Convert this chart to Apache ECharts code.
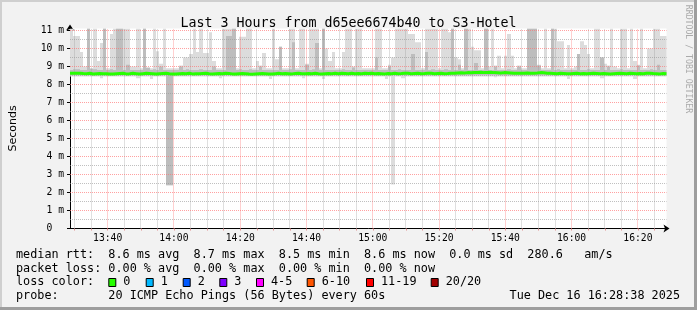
<!DOCTYPE html>
<html><head><meta charset="utf-8">
<script src="https://cdn.jsdelivr.net/npm/echarts@6/dist/echarts.min.js"></script>
<style>html,body{margin:0;padding:0;background:#f2f2f2}#c{width:697px;height:310px}</style>
</head><body><div id="c"></div>
<script>
// ---- data ----
const startMin = 808.633;   // 13:28:38 in minutes after midnight
const endMin = 988.633;     // 16:28:38
const T = 11.2;             // smoke that runs past the top of the chart
// highest ping per minute (ms)
const smokeHi = [
 T,10.7,10.7,9.8,9.0,T,8.9,T,9.3,10.3,
 T,8.9,10.8,T,T,T,T,T,9.0,9.0,
 T,8.9,T,8.95,8.9,T,9.85,9.15,T,8.9,
 8.9,8.9,8.9,9.05,9.5,9.5,9.7,T,9.8,T,
 9.75,9.75,10.9,9.3,8.9,8.9,T,T,T,T,
 8.9,10.65,10.65,T,T,8.9,9.3,9.05,9.75,8.9,
 8.9,T,9.4,10.1,8.9,8.9,T,T,8.9,T,
 T,9.15,T,T,T,8.9,T,10.0,9.3,9.8,
 8.9,8.9,9.8,T,T,9.0,T,T,8.9,8.9,
 8.9,8.9,T,T,8.9,8.9,9.1,9.5,T,T,
 T,T,10.8,10.8,10.35,10.35,8.9,T,T,T,
 T,8.9,T,T,10.9,T,9.5,9.4,8.9,T,
 T,10.1,9.9,9.9,8.9,T,9.0,T,9.05,9.6,
 8.9,9.6,10.8,9.6,8.9,9.05,8.9,8.9,T,T,
 T,9.1,8.9,T,8.9,T,T,10.4,10.4,8.9,
 10.2,8.9,9.0,9.7,10.4,10.2,9.7,8.9,T,T,
 9.5,9.15,9.05,T,9.0,8.9,T,T,8.9,T,
 9.3,9.1,T,8.9,10.0,10.0,T,T,10.7,10.7
];
// top of the denser (darker) part of the smoke (ms)
const smokeMid = [
 8.8,8.85,8.85,8.8,8.8,T,8.88,8.85,8.8,8.8,
 T,8.8,8.85,8.8,T,T,8.8,9.1,8.8,8.8,
 8.8,8.8,T,8.93,8.8,8.85,8.8,9.0,8.8,8.8,
 8.8,8.8,8.8,9.0,8.8,8.85,8.8,8.8,8.8,8.85,
 8.8,8.8,8.8,9.0,8.8,8.8,8.8,10.7,10.7,T,
 8.8,8.85,8.8,8.8,8.85,8.8,8.8,9.0,8.8,8.8,
 8.8,8.8,8.8,10.1,8.8,8.8,8.85,10.35,8.8,8.8,
 8.8,9.1,8.8,8.85,10.3,8.8,T,8.8,8.8,8.8,
 8.8,8.8,8.85,8.8,8.8,8.95,8.8,8.8,8.8,8.8,
 8.8,8.8,9.5,8.8,8.8,8.8,9.0,8.8,8.8,8.85,
 8.8,8.8,8.8,9.7,8.8,8.8,8.8,9.8,8.8,8.85,
 8.8,8.8,8.8,8.85,8.8,T,8.8,9.1,8.8,T,
 8.8,8.8,9.2,8.8,8.8,T,8.8,8.8,9.0,8.8,
 8.8,8.8,8.85,8.8,8.8,9.0,8.8,8.8,T,T,
 T,9.05,8.8,8.8,8.8,T,8.8,8.85,8.8,8.8,
 8.8,8.8,8.8,9.7,8.8,8.8,8.85,8.8,8.8,8.8,
 9.5,8.8,9.0,8.8,8.8,8.8,8.85,8.8,8.8,8.8,
 8.8,9.05,8.8,8.8,8.8,8.85,8.8,9.1,8.8,8.8
];
// lowest ping per minute (ms)
const smokeLo = [
 8.45,8.45,8.45,8.45,8.45,8.45,8.45,8.45,8.45,8.35,
 8.45,8.45,8.45,8.45,8.45,8.45,8.45,8.45,8.45,8.45,
 8.35,8.45,8.45,8.45,8.3,8.45,8.45,8.45,8.45,2.4,
 2.4,8.45,8.45,8.45,8.45,8.45,8.45,8.45,8.45,8.45,
 8.45,8.45,8.45,8.45,8.45,8.35,8.45,8.45,8.45,8.45,
 8.45,8.45,8.45,8.45,8.45,8.45,8.45,8.45,8.45,8.45,
 8.3,8.45,8.45,8.45,8.45,8.45,8.45,8.45,8.45,8.45,
 8.35,8.45,8.45,8.45,8.45,8.45,8.3,8.45,8.45,8.45,
 8.45,8.45,8.45,8.45,8.45,8.45,8.45,8.45,8.45,8.45,
 8.45,8.45,8.45,8.45,8.45,8.3,8.45,2.45,8.45,8.45,
 8.35,8.45,8.45,8.45,8.45,8.45,8.45,8.45,8.45,8.45,
 8.45,8.45,8.45,8.45,8.45,8.45,8.45,8.45,8.45,8.45,
 8.45,8.45,8.45,8.45,8.45,8.45,8.45,8.45,8.4,8.45,
 8.45,8.45,8.45,8.45,8.45,8.45,8.45,8.45,8.45,8.45,
 8.45,8.45,8.45,8.45,8.45,8.45,8.45,8.45,8.45,8.45,
 8.3,8.45,8.45,8.45,8.45,8.45,8.45,8.45,8.45,8.45,
 8.35,8.45,8.45,8.45,8.45,8.45,8.45,8.45,8.45,8.45,
 8.3,8.45,8.45,8.45,8.45,8.45,8.45,8.45,8.45,8.45
];
// bottom of the denser part of the smoke (ms)
const smokeLo2 = [
 8.52,8.52,8.52,8.52,8.52,8.52,8.52,8.52,8.52,8.52,
 8.52,8.52,8.52,8.52,8.52,8.52,8.52,8.52,8.52,8.52,
 8.52,8.52,8.52,8.52,8.52,8.52,8.52,8.52,8.52,2.4,
 2.4,8.52,8.52,8.52,8.52,8.52,8.52,8.52,8.52,8.52,
 8.52,8.52,8.52,8.52,8.52,8.52,8.52,8.52,8.52,8.52,
 8.52,8.52,8.52,8.52,8.52,8.52,8.52,8.52,8.52,8.52,
 8.52,8.52,8.52,8.52,8.52,8.52,8.52,8.52,8.52,8.52,
 8.52,8.52,8.52,8.52,8.52,8.52,8.52,8.52,8.52,8.52,
 8.52,8.52,8.52,8.52,8.52,8.52,8.52,8.52,8.52,8.52,
 8.52,8.52,8.52,8.52,8.52,8.52,8.52,8.52,8.52,8.52,
 8.52,8.52,8.52,8.52,8.52,8.52,8.52,8.52,8.52,8.52,
 8.52,8.52,8.52,8.52,8.52,8.52,8.52,8.52,8.52,8.52,
 8.52,8.52,8.52,8.52,8.52,8.52,8.52,8.52,8.52,8.52,
 8.52,8.52,8.52,8.52,8.52,8.52,8.52,8.52,8.52,8.52,
 8.52,8.52,8.52,8.52,8.52,8.52,8.52,8.52,8.52,8.52,
 8.52,8.52,8.52,8.52,8.52,8.52,8.52,8.52,8.52,8.52,
 8.52,8.52,8.52,8.52,8.52,8.52,8.52,8.52,8.52,8.52,
 8.52,8.52,8.52,8.52,8.52,8.52,8.52,8.52,8.52,8.52
];
// median rtt per minute (ms)
const median = [
 8.62,8.62,8.63,8.61,8.60,8.62,8.58,8.60,8.61,8.60,
 8.60,8.58,8.59,8.60,8.61,8.62,8.59,8.60,8.62,8.60,
 8.58,8.60,8.62,8.61,8.60,8.58,8.60,8.61,8.62,8.60,
 8.59,8.58,8.60,8.61,8.60,8.62,8.59,8.60,8.60,8.61,
 8.62,8.60,8.59,8.60,8.61,8.60,8.62,8.61,8.59,8.58,
 8.60,8.61,8.60,8.58,8.57,8.59,8.60,8.61,8.60,8.59,
 8.58,8.60,8.62,8.60,8.61,8.60,8.59,8.61,8.62,8.60,
 8.60,8.61,8.60,8.62,8.60,8.59,8.60,8.61,8.60,8.62,
 8.60,8.62,8.61,8.60,8.62,8.60,8.61,8.60,8.62,8.61,
 8.62,8.60,8.61,8.60,8.59,8.61,8.60,8.62,8.60,8.61,
 8.63,8.62,8.60,8.61,8.62,8.60,8.61,8.63,8.62,8.60,
 8.61,8.62,8.60,8.61,8.63,8.62,8.64,8.65,8.64,8.66,
 8.65,8.66,8.67,8.68,8.66,8.67,8.68,8.66,8.65,8.64,
 8.66,8.65,8.64,8.62,8.63,8.62,8.63,8.64,8.62,8.63,
 8.64,8.66,8.65,8.63,8.62,8.61,8.60,8.62,8.61,8.60,
 8.60,8.61,8.62,8.60,8.61,8.60,8.61,8.62,8.61,8.60,
 8.61,8.60,8.59,8.60,8.61,8.62,8.61,8.60,8.62,8.61,
 8.60,8.61,8.60,8.62,8.63,8.61,8.60,8.59,8.61,8.60
];
// axis ticks
const xLabelVals = [820,840,860,880,900,920,940,960,980];
const xLabels = ['13:40','14:00','14:20','14:40','15:00','15:20','15:40','16:00','16:20'];
const xMinorVals = [810,815,825,830,835,845,850,855,865,870,875,885,890,895,905,910,915,925,930,935,945,950,955,965,970,975,985];
const yLabelVals = [0,1,2,3,4,5,6,7,8,9,10,11];
const yLabels = ['0  ',' 1 m',' 2 m',' 3 m',' 4 m',' 5 m',' 6 m',' 7 m',' 8 m',' 9 m','10 m','11 m'];
const yMinorVals = [0.5,1.5,2.5,3.5,4.5,5.5,6.5,7.5,8.5,9.5,10.5];
const yMax = 100/9;
// legend
const title = 'Last 3 Hours from d65ee6674b40 to S3-Hotel';
const legendRows = [
 'median rtt:  8.6 ms avg  8.7 ms max  8.5 ms min  8.6 ms now  0.0 ms sd  280.6   am/s',
 'packet loss: 0.00 % avg  0.00 % max  0.00 % min  0.00 % now',
 'loss color:',
 'probe:       20 ICMP Echo Pings (56 Bytes) every 60s'
];
const lossLabels = ['0','1','2','3','4-5','6-10','11-19','20/20'];
const lossColors = ['#26ff00','#00b8ff','#0059ff','#7e00ff','#ff00ff','#ff5500','#ff0000','#a10000'];
const dateText = 'Tue Dec 16 16:28:38 2025';

// ---- build ----
const MONO = 'DejaVu Sans Mono';
const smokeData = smokeHi.map((h, i) => [startMin + i, smokeLo[i], h, smokeLo2[i], smokeMid[i]]);
const medPts = [];
median.forEach((m, i) => { medPts.push([startMin + i, m]); medPts.push([startMin + i + 1, m]); });

// grid line items: [axis (0 = vertical, 1 = horizontal), value, major(1)/minor(0)]
const gridItems = [];
xMinorVals.forEach(v => gridItems.push([0, v, 0]));
yMinorVals.forEach(v => gridItems.push([1, v, 0]));
xLabelVals.forEach(v => gridItems.push([0, v, 1]));
yLabelVals.slice(1).forEach(v => gridItems.push([1, v, 1]));
const MINOR = 'rgba(150,150,150,0.6)';
const MAJOR = 'rgba(255,110,110,0.65)';
const crisp = v => Math.round(v - 0.5) + 0.5;

const graphics = [
  {type:'rect', shape:{x:0,y:0,width:697,height:2}, style:{fill:'#cfcfcf'}, z:100},
  {type:'rect', shape:{x:0,y:0,width:2,height:310}, style:{fill:'#cfcfcf'}, z:100},
  {type:'rect', shape:{x:0,y:307,width:697,height:3}, style:{fill:'#9e9e9e'}, z:100},
  {type:'rect', shape:{x:694,y:0,width:3,height:310}, style:{fill:'#9e9e9e'}, z:100},
  {type:'text', x:688, y:59, rotation:-Math.PI/2,
   style:{text:'RRDTOOL / TOBI OETIKER', font:'8.2px "'+MONO+'"', fill:'#aaaaaa', align:'center', verticalAlign:'middle'}}
];
const rowY = [255, 268.5, 282.3, 296];
legendRows.forEach((t, k) => graphics.push({type:'text', x:16, y:rowY[k],
  style:{text:t, font:'11.8px "'+MONO+'"', fill:'#000', align:'left', verticalAlign:'middle'}}));
const boxX = [108.3,145.7,182.7,219.3,256,306.7,366,430.7];
lossLabels.forEach((l, k) => {
  graphics.push({type:'rect', shape:{x:boxX[k]+0.5, y:278.5, width:7, height:8}, style:{fill:lossColors[k], stroke:'#000', lineWidth:1}});
  graphics.push({type:'text', x:boxX[k]+15, y:rowY[2], style:{text:l, font:'11.8px "'+MONO+'"', fill:'#000', align:'left', verticalAlign:'middle'}});
});
graphics.push({type:'text', x:680, y:rowY[3], style:{text:dateText, font:'11.8px "'+MONO+'"', fill:'#000', align:'right', verticalAlign:'middle'}});

const chart = echarts.init(document.getElementById('c'), null, {renderer:'canvas'});
chart.setOption({
  animation: false,
  backgroundColor: '#f2f2f2',
  title: {text: title, left: 'center', top: 12,
    textStyle: {fontFamily: MONO, fontSize: 13.3, fontWeight: 'normal', color: '#000'}},
  grid: {left: 66.5, top: 28.5, width: 600, height: 200, show: true, backgroundColor: '#fff', borderWidth: 0},
  xAxis: {
    type: 'value', min: startMin, max: endMin,
    axisLine: {show: true, lineStyle: {color: '#000', width: 1}, symbol: ['none','arrow'], symbolSize: [6,6], symbolOffset: [0,3]},
    axisTick: {show: true, customValues: xMinorVals.concat(xLabelVals), length: 2, lineStyle: {color: '#e09090'}},
    axisLabel: {customValues: xLabelVals, margin: 5, color: '#000', fontFamily: MONO, fontSize: 9.7,
      formatter: v => xLabels[xLabelVals.indexOf(Math.round(v))] || ''},
    splitLine: {show: false}
  },
  yAxis: {
    type: 'value', min: 0, max: yMax,
    name: 'Seconds', nameLocation: 'middle', nameGap: 51, nameRotate: 90,
    nameTextStyle: {fontFamily: 'DejaVu Sans', fontSize: 11, color: '#000'},
    axisLine: {show: true, lineStyle: {color: '#000', width: 1}, symbol: ['none','arrow'], symbolSize: [6,6], symbolOffset: [0,4]},
    axisTick: {show: true, customValues: yLabelVals, length: 3, lineStyle: {color: '#000'}},
    axisLabel: {customValues: yLabelVals, margin: 6, color: '#000', fontFamily: MONO, fontSize: 9.7,
      formatter: v => yLabels[yLabelVals.indexOf(Math.round(v))] || ''},
    splitLine: {show: false}
  },
  graphic: graphics,
  series: [
    {
      type: 'custom', z: 2, silent: true, clip: true,
      data: smokeData,
      encode: {x: 0, y: [1, 2]},
      renderItem: function (params, api) {
        const t = api.value(0);
        const cs = params.coordSys;
        const area = {x: cs.x, y: cs.y, width: cs.width, height: cs.height};
        const xa = Math.round(api.coord([t, 0])[0]);
        const xb = Math.round(api.coord([t + 1, 0])[0]);
        const yLo = api.coord([t, api.value(1)])[1];
        const yHi = api.coord([t, api.value(2)])[1];
        const yLo2 = api.coord([t, api.value(3)])[1];
        const yMid = api.coord([t, api.value(4)])[1];
        const r1 = echarts.graphic.clipRectByRect({x: xa, y: yHi, width: xb - xa, height: yLo - yHi}, area);
        const r2 = echarts.graphic.clipRectByRect({x: xa, y: yMid, width: xb - xa, height: yLo2 - yMid}, area);
        const ch = [];
        if (r1) ch.push({type: 'rect', shape: r1, style: {fill: '#dcdcdc'}});
        if (r2) ch.push({type: 'rect', shape: r2, style: {fill: '#bdbdbd'}});
        return {type: 'group', children: ch};
      }
    },
    {
      type: 'custom', z: 3, silent: true,
      data: gridItems,
      encode: {x: 1},
      renderItem: function (params, api) {
        const kind = api.value(0), v = api.value(1), major = api.value(2);
        let shape;
        if (kind === 0) {
          const a = api.coord([v, 0]), b = api.coord([v, yMax]);
          const x = crisp(a[0]);
          shape = {x1: x, y1: a[1], x2: x, y2: b[1]};
        } else {
          const a = api.coord([startMin, v]), b = api.coord([endMin, v]);
          const y = crisp(a[1]);
          shape = {x1: a[0], y1: y, x2: b[0], y2: y};
        }
        return {type: 'line', shape: shape,
          style: {stroke: major ? MAJOR : MINOR, lineWidth: 1, lineDash: [1, 1], fill: null}};
      }
    },
    {
      type: 'line', z: 5, data: medPts, symbol: 'none', silent: true,
      lineStyle: {color: '#26ff00', width: 3}
    }
  ]
});
</script>
</body></html>
